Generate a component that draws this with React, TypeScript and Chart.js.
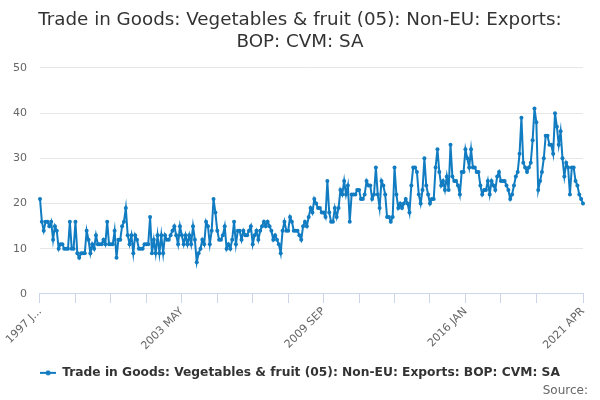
import { useEffect, useRef } from "react";
import { Chart, registerables } from "chart.js";

Chart.register(...registerables);

// monthly series, 1997 JAN .. 2021 APR (£ million)
const firstYear = 1997;
const monthCodes = ["JAN", "FEB", "MAR", "APR", "MAY", "JUN", "JUL", "AUG", "SEP", "OCT", "NOV", "DEC"];

const exportValues = [
  21, 16, 14, 16, 16, 15, 16, 12, 15, 14, 10, 11, // 1997
  11, 10, 10, 10, 16, 10, 10, 16, 9, 8, 9, 9, // 1998
  9, 14, 12, 9, 11, 10, 13, 11, 11, 11, 12, 11, // 1999
  16, 11, 11, 11, 14, 8, 12, 12, 15, 16, 19, 13, // 2000
  11, 13, 9, 13, 12, 10, 10, 10, 11, 11, 11, 17, // 2001
  9, 12, 9, 13, 9, 13, 9, 13, 12, 12, 13, 14, // 2002
  15, 13, 11, 15, 13, 11, 13, 11, 13, 11, 15, 12, // 2003
  7, 9, 10, 12, 11, 16, 15, 11, 14, 21, 18, 14, // 2004
  12, 12, 13, 15, 10, 11, 10, 12, 16, 11, 14, 14, // 2005
  12, 14, 13, 13, 14, 15, 11, 13, 14, 12, 14, 15, // 2006
  16, 15, 16, 15, 14, 12, 13, 12, 11, 9, 14, 16, // 2007
  14, 14, 17, 16, 14, 14, 14, 13, 12, 15, 16, 15, // 2008
  17, 19, 18, 21, 20, 19, 19, 18, 18, 17, 25, 18, // 2009
  16, 16, 19, 17, 19, 23, 22, 25, 22, 24, 16, 22, // 2010
  22, 22, 23, 23, 21, 21, 22, 25, 24, 24, 21, 22, // 2011
  28, 22, 19, 25, 24, 22, 17, 17, 16, 17, 28, 22, // 2012
  19, 20, 19, 20, 21, 20, 18, 24, 28, 28, 27, 22, // 2013
  20, 23, 30, 24, 22, 20, 21, 21, 28, 32, 27, 24, // 2014
  25, 23, 26, 23, 33, 26, 25, 25, 24, 22, 27, 27, // 2015
  32, 30, 28, 32, 28, 28, 27, 27, 24, 22, 23, 23, // 2016
  25, 22, 25, 24, 23, 26, 27, 25, 25, 25, 24, 23, // 2017
  21, 22, 24, 26, 27, 31, 39, 29, 28, 27, 28, 29, // 2018
  34, 41, 38, 23, 25, 27, 30, 35, 35, 33, 33, 31, // 2019
  40, 37, 33, 36, 30, 26, 29, 28, 22, 28, 28, 25, // 2020
  24, 22, 21, 20, // 2021
];

const monthLabels = exportValues.map(
  (_, i) => `${firstYear + Math.floor(i / 12)} ${monthCodes[i % 12]}`
);

// tick marks every 19 months, text on every fourth of them and on the last month
const tickMarks = [0, 19, 38, 57, 76, 95, 114, 133, 152, 171, 190, 209, 228, 247, 266, 291];
const tickTexts: Record<number, string> = {
  0: "1997 J...",
  76: "2003 MAY",
  152: "2009 SEP",
  228: "2016 JAN",
  291: "2021 APR",
};

const yTicks = [0, 10, 20, 30, 40, 50];

const seriesName = "Trade in Goods: Vegetables & fruit (05): Non-EU: Exports: BOP: CVM: SA";
const chartTitle = ["Trade in Goods: Vegetables & fruit (05): Non-EU: Exports:", "BOP: CVM: SA"];

const LINE_COLOR = "#117cc1";

function legendMarker(color: string) {
  const c = document.createElement("canvas");
  c.width = 16;
  c.height = 8;
  const ctx = c.getContext("2d");
  if (ctx) {
    ctx.strokeStyle = color;
    ctx.lineWidth = 2;
    ctx.beginPath();
    ctx.moveTo(0, 4);
    ctx.lineTo(16, 4);
    ctx.stroke();
    ctx.fillStyle = color;
    ctx.beginPath();
    ctx.arc(8, 4, 2.5, 0, Math.PI * 2);
    ctx.fill();
  }
  return c;
}

export default function App() {
  const canvasRef = useRef<HTMLCanvasElement>(null);
  const chartRef = useRef<Chart | null>(null);

  useEffect(() => {
    if (!canvasRef.current) return;
    if (chartRef.current) chartRef.current.destroy();

    Chart.defaults.font.family = "'DejaVu Sans', Verdana, sans-serif";

    chartRef.current = new Chart(canvasRef.current, {
      type: "line",
      data: {
        labels: monthLabels,
        datasets: [
          {
            label: seriesName,
            data: exportValues,
            borderColor: LINE_COLOR,
            backgroundColor: LINE_COLOR,
            borderWidth: 2,
            pointRadius: 2,
            pointBorderWidth: 0,
            pointBackgroundColor: LINE_COLOR,
            tension: 0,
          },
        ],
      },
      options: {
        animation: false,
        responsive: true,
        maintainAspectRatio: false,
        events: [],
        layout: { padding: { left: 0, right: 0, bottom: 11 } },
        plugins: {
          title: {
            display: true,
            text: chartTitle,
            color: "#333333",
            font: { size: 18.3, weight: "normal", lineHeight: 1.2 },
            padding: { top: 9, bottom: 15 },
          },
          legend: {
            position: "bottom",
            labels: {
              color: "#333333",
              font: { size: 12.25, weight: "bold" },
              usePointStyle: true,
              pointStyle: legendMarker(LINE_COLOR),
              pointStyleWidth: 16,
              padding: 12,
            },
          },
          tooltip: { enabled: false },
        },
        scales: {
          x: {
            type: "category",
            offset: false,
            afterBuildTicks: (axis) => {
              axis.ticks = tickMarks.map((v) => ({ value: v }));
            },
            grid: {
              drawOnChartArea: false,
              drawTicks: true,
              tickLength: 9,
              color: "#ccd6eb",
            },
            border: { color: "#ccd6eb" },
            ticks: {
              autoSkip: false,
              minRotation: 45,
              maxRotation: 45,
              padding: 2,
              color: "#666666",
              font: { size: 11 },
              callback: (value) => tickTexts[Number(value)] ?? "",
            },
          },
          y: {
            min: yTicks[0],
            max: yTicks[yTicks.length - 1],
            afterBuildTicks: (axis) => {
              axis.ticks = yTicks.map((v) => ({ value: v }));
            },
            grid: { color: "#e6e6e6", drawTicks: false },
            border: { display: false },
            ticks: {
              padding: 13,
              color: "#666666",
              font: { size: 11 },
            },
          },
          // empty strip on the right so the plot stops short of the edge
          // while title and legend stay centred on the whole canvas
          rightGap: {
            position: "right",
            grid: { display: false },
            border: { display: false },
            ticks: { display: false },
            afterFit: (axis) => {
              axis.width = 17;
            },
          },
        },
      },
    });

    return () => {
      if (chartRef.current) {
        chartRef.current.destroy();
        chartRef.current = null;
      }
    };
  }, []);

  return (
    <div style={{ position: "absolute", left: 0, top: 0, width: 600, height: 400, background: "#fff" }}>
      <canvas ref={canvasRef} />
      <div
        style={{
          position: "absolute",
          right: 12,
          top: 382,
          fontFamily: "'DejaVu Sans', Verdana, sans-serif",
          fontSize: 12,
          lineHeight: "16px",
          color: "#666666",
        }}
      >
        Source:
      </div>
    </div>
  );
}
